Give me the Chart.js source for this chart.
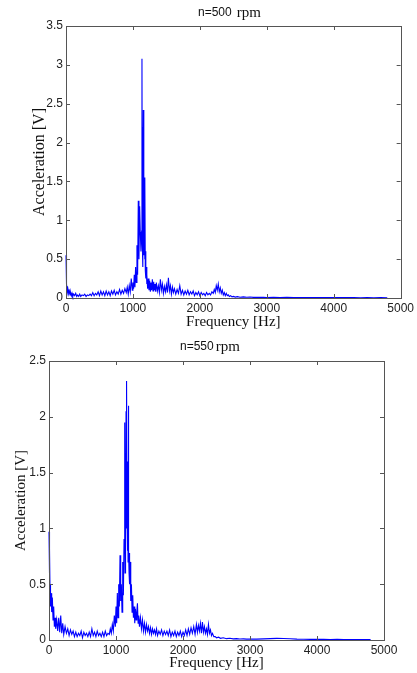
<!DOCTYPE html>
<html>
<head>
<meta charset="utf-8">
<script src="https://cdn.jsdelivr.net/npm/chart.js@4/dist/chart.umd.min.js"></script>
<style>
  html, body { margin: 0; padding: 0; background: #fff; }
  #wrap { position: relative; width: 417px; height: 673px; overflow: hidden; }
  .box { position: absolute; left: 0; width: 417px; }
</style>
</head>
<body>
<div id="wrap">
  <div class="box" style="top:0;height:330px"><canvas id="chart500" width="417" height="330"></canvas></div>
  <div class="box" style="top:330px;height:343px"><canvas id="chart550" width="417" height="343"></canvas></div>
</div>
<script>
// spectrum sample frequencies (Hz), shared by both runs
const freqHz = [
  0, 5, 10, 15, 20, 25, 30, 40, 50, 60,
  70, 80, 90, 100, 115, 130, 145, 160, 175, 190,
  205, 220, 240, 260, 280, 300, 320, 340, 360, 380,
  400, 420, 440, 460, 480, 500, 520, 540, 560, 580,
  600, 620, 640, 660, 680, 700, 720, 740, 760, 780,
  800, 820, 840, 860, 880, 900, 915, 930, 945, 960,
  975, 990, 1000, 1010, 1020, 1030, 1040, 1050, 1060, 1070,
  1080, 1090, 1100, 1110, 1120, 1130, 1135, 1140, 1145, 1150,
  1155, 1160, 1165, 1170, 1175, 1180, 1185, 1190, 1195, 1200,
  1205, 1210, 1220, 1230, 1240, 1250, 1260, 1270, 1280, 1290,
  1300, 1310, 1320, 1330, 1340, 1350, 1365, 1380, 1395, 1410,
  1425, 1440, 1455, 1470, 1485, 1500, 1515, 1530, 1545, 1560,
  1575, 1590, 1605, 1620, 1640, 1660, 1680, 1700, 1720, 1740,
  1760, 1780, 1800, 1820, 1840, 1860, 1880, 1900, 1920, 1940,
  1960, 1980, 2000, 2020, 2040, 2060, 2080, 2100, 2120, 2140,
  2160, 2180, 2200, 2215, 2230, 2245, 2260, 2275, 2290, 2305,
  2320, 2335, 2350, 2365, 2380, 2395, 2410, 2425, 2440, 2460,
  2480, 2500, 2530, 2560, 2600, 2650, 2700, 2750, 2800, 2850,
  2900, 2950, 3000, 3100, 3200, 3300, 3400, 3500, 3600, 3700,
  3800, 3900, 4000, 4100, 4200, 4300, 4400, 4500, 4600, 4700,
  4800
];

// acceleration [V] at n=500 rpm
const accel500 = [
  0.55, 0.32, 0.18, 0.12, 0.15, 0.08, 0.11, 0.06, 0.09, 0.04,
  0.07, 0.03, 0.06, 0.02, 0.05, 0.03, 0.06, 0.02, 0.04, 0.02,
  0.05, 0.02, 0.04, 0.03, 0.05, 0.02, 0.04, 0.03, 0.05, 0.03,
  0.07, 0.03, 0.06, 0.04, 0.08, 0.03, 0.09, 0.04, 0.08, 0.03,
  0.09, 0.04, 0.08, 0.03, 0.09, 0.05, 0.10, 0.04, 0.08, 0.05,
  0.11, 0.05, 0.10, 0.06, 0.12, 0.07, 0.14, 0.05, 0.16, 0.08,
  0.25, 0.10, 0.20, 0.12, 0.30, 0.14, 0.40, 0.20, 0.68, 0.30,
  1.25, 0.50, 1.18, 0.85, 0.60, 0.86, 3.08, 0.70, 2.20, 0.40,
  2.42, 0.55, 1.10, 1.38, 0.50, 1.55, 0.35, 0.60, 0.25, 0.40,
  0.18, 0.30, 0.12, 0.25, 0.10, 0.22, 0.08, 0.20, 0.10, 0.24,
  0.09, 0.21, 0.10, 0.18, 0.08, 0.20, 0.09, 0.16, 0.07, 0.24,
  0.10, 0.18, 0.06, 0.15, 0.08, 0.17, 0.07, 0.26, 0.09, 0.16,
  0.05, 0.14, 0.07, 0.12, 0.05, 0.11, 0.06, 0.16, 0.05, 0.10,
  0.04, 0.09, 0.05, 0.10, 0.04, 0.08, 0.05, 0.09, 0.03, 0.07,
  0.04, 0.08, 0.03, 0.07, 0.04, 0.06, 0.03, 0.07, 0.04, 0.06,
  0.04, 0.08, 0.06, 0.11, 0.07, 0.16, 0.10, 0.18, 0.08, 0.13,
  0.06, 0.10, 0.04, 0.07, 0.03, 0.06, 0.03, 0.04, 0.02, 0.03,
  0.015, 0.02, 0.012, 0.018, 0.01, 0.015, 0.01, 0.012, 0.008, 0.01,
  0.008, 0.01, 0.007, 0.009, 0.006, 0.008, 0.006, 0.007, 0.005, 0.006,
  0.005, 0.006, 0.005, 0.006, 0.005, 0.005, 0.004, 0.005, 0.004, 0.005,
  0.004
];

// acceleration [V] at n=550 rpm
const accel550 = [
  0.97, 0.60, 0.82, 0.45, 0.50, 0.30, 0.42, 0.25, 0.38, 0.18,
  0.30, 0.12, 0.20, 0.10, 0.18, 0.08, 0.20, 0.07, 0.22, 0.06,
  0.15, 0.05, 0.12, 0.06, 0.10, 0.04, 0.09, 0.05, 0.08, 0.03,
  0.07, 0.03, 0.06, 0.04, 0.08, 0.02, 0.07, 0.04, 0.06, 0.03,
  0.07, 0.03, 0.10, 0.04, 0.07, 0.03, 0.08, 0.04, 0.06, 0.03,
  0.07, 0.03, 0.08, 0.04, 0.06, 0.05, 0.10, 0.06, 0.14, 0.08,
  0.22, 0.12, 0.30, 0.15, 0.42, 0.20, 0.50, 0.30, 0.76, 0.35,
  0.50, 0.25, 0.70, 0.40, 0.90, 1.95, 0.60, 1.40, 0.80, 2.05,
  1.00, 2.32, 1.20, 0.80, 1.60, 0.70, 2.10, 0.80, 0.60, 0.78,
  0.50, 0.70, 0.35, 0.50, 0.25, 0.40, 0.20, 0.30, 0.15, 0.28,
  0.18, 0.25, 0.33, 0.15, 0.22, 0.12, 0.20, 0.10, 0.18, 0.08,
  0.15, 0.07, 0.14, 0.08, 0.12, 0.06, 0.11, 0.05, 0.10, 0.06,
  0.09, 0.05, 0.10, 0.04, 0.08, 0.05, 0.09, 0.04, 0.08, 0.05,
  0.08, 0.04, 0.09, 0.03, 0.07, 0.04, 0.08, 0.03, 0.07, 0.04,
  0.08, 0.03, 0.07, 0.04, 0.09, 0.04, 0.10, 0.05, 0.11, 0.06,
  0.12, 0.05, 0.14, 0.07, 0.13, 0.08, 0.15, 0.06, 0.16, 0.07,
  0.12, 0.06, 0.10, 0.05, 0.14, 0.06, 0.09, 0.04, 0.06, 0.03,
  0.03, 0.02, 0.025, 0.015, 0.02, 0.012, 0.015, 0.01, 0.012, 0.009,
  0.01, 0.008, 0.009, 0.008, 0.01, 0.012, 0.015, 0.013, 0.011, 0.008,
  0.007, 0.006, 0.007, 0.006, 0.005, 0.006, 0.005, 0.005, 0.004, 0.005,
  0.004
];

const xTicks = [0, 1000, 2000, 3000, 4000, 5000];
const yTicks500 = [0, 0.5, 1, 1.5, 2, 2.5, 3, 3.5];
const yTicks550 = [0, 0.5, 1, 1.5, 2, 2.5];

/**
 * MATLAB style box with inward ticks on all four sides + mixed font title
 */
const matlabBox = {
  id: 'matlabBox',
  afterDatasetsDraw(chart, args, opts) {
    const { ctx, chartArea: a, scales } = chart;
    const len = 4;
    ctx.save();
    ctx.strokeStyle = '#555';
    ctx.lineWidth = 1;
    ctx.beginPath();
    scales.x.ticks.forEach(t => {
      const px = Math.round(scales.x.getPixelForValue(t.value)) + 0.5;
      ctx.moveTo(px, a.bottom); ctx.lineTo(px, a.bottom - len);
      ctx.moveTo(px, a.top); ctx.lineTo(px, a.top + len);
    });
    scales.y.ticks.forEach(t => {
      const py = Math.round(scales.y.getPixelForValue(t.value)) + 0.5;
      ctx.moveTo(a.left, py); ctx.lineTo(a.left + len, py);
      ctx.moveTo(a.right, py); ctx.lineTo(a.right - len, py);
    });
    ctx.stroke();
    ctx.strokeRect(Math.round(a.left) + 0.5, Math.round(a.top) + 0.5,
      Math.round(a.right - a.left), Math.round(a.bottom - a.top));

    // title: "n=500" in sans, "rpm" in serif
    ctx.fillStyle = '#111';
    ctx.textBaseline = 'middle';
    ctx.textAlign = 'left';
    ctx.font = '12px "Liberation Sans", Arial, sans-serif';
    ctx.fillText(opts.left, opts.x, opts.y);
    const w = ctx.measureText(opts.left).width;
    ctx.font = '15px "Liberation Serif", "Times New Roman", serif';
    ctx.fillText('rpm', opts.x + w + opts.gap, opts.y);
    ctx.restore();
  }
};

function makeChart(id, values, yTicks, cfg) {
  const points = freqHz.map((f, i) => ({ x: f, y: values[i] }));
  return new Chart(document.getElementById(id), {
    type: 'line',
    data: {
      datasets: [{
        data: points,
        borderColor: '#0000ff',
        borderWidth: 1.1,
        pointRadius: 0,
        tension: 0,
        fill: false,
        clip: 2
      }]
    },
    options: {
      responsive: false,
      animation: false,
      events: [],
      layout: { padding: cfg.padding },
      plugins: {
        legend: { display: false },
        tooltip: { enabled: false },
        matlabBox: cfg.title
      },
      scales: {
        x: {
          type: 'linear',
          min: 0,
          max: 5000,
          afterBuildTicks: s => { s.ticks = xTicks.map(v => ({ value: v })); },
          afterFit: s => { s.height = cfg.xHeight; },
          grid: { display: false, drawTicks: false },
          border: { display: false },
          ticks: {
            padding: 3,
            color: '#222',
            maxRotation: 0,
            callback: v => String(v),
            font: { family: '"Liberation Sans", Arial, sans-serif', size: 12 }
          },
          title: {
            display: true,
            text: 'Frequency [Hz]',
            color: '#111',
            padding: { top: 0, bottom: cfg.xTitlePad },
            font: { family: '"Liberation Serif", "Times New Roman", serif', size: 15, lineHeight: 1 }
          }
        },
        y: {
          min: 0,
          max: yTicks[yTicks.length - 1],
          afterBuildTicks: s => { s.ticks = yTicks.map(v => ({ value: v })); },
          afterFit: s => { s.width = cfg.yWidth; },
          grid: { display: false, drawTicks: false },
          border: { display: false },
          ticks: {
            padding: 3,
            color: '#222',
            callback: v => String(v),
            font: { family: '"Liberation Sans", Arial, sans-serif', size: 12 }
          },
          title: {
            display: true,
            text: 'Acceleration [V]',
            color: '#111',
            padding: 0,
            font: { family: '"Liberation Serif", "Times New Roman", serif', size: cfg.yTitleSize, lineHeight: 1 }
          }
        }
      }
    },
    plugins: [matlabBox]
  });
}

makeChart('chart500', accel500, yTicks500, {
  padding: { left: 32, right: 14, top: 26, bottom: 0 },
  yWidth: 34,
  xHeight: 32,
  xTitlePad: 0,
  yTitleSize: 16,
  title: { left: 'n=500', x: 198, y: 13, gap: 5 }
});

makeChart('chart550', accel550, yTicks550, {
  padding: { left: 14, right: 33, top: 31, bottom: 0 },
  yWidth: 35,
  xHeight: 33,
  xTitlePad: 2,
  yTitleSize: 15,
  title: { left: 'n=550', x: 180, y: 17, gap: 2 }
});
</script>
</body>
</html>
